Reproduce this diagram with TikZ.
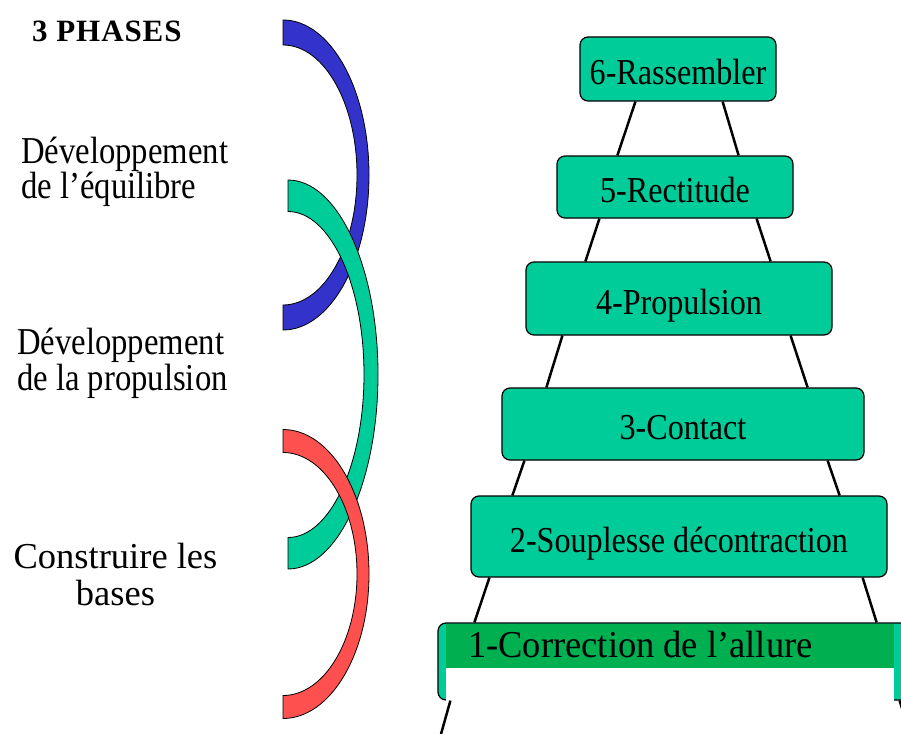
\documentclass[tikz,border=0pt]{standalone}
\usepackage{fontspec}
\setmainfont{Liberation Serif}
\newfontfamily\condfont[FakeStretch=0.86]{Liberation Serif}
\newfontfamily\boxfont[FakeStretch=0.88]{Liberation Serif}
\newfontfamily\barfont[FakeStretch=0.96]{Liberation Serif}
\newfontfamily\phfont[LetterSpace=3]{Liberation Serif}
\definecolor{boxteal}{HTML}{00CC99}
\definecolor{bargreen}{HTML}{00B050}
\definecolor{arcblue}{HTML}{3333CC}
\definecolor{arcred}{HTML}{FF5050}
\tikzset{
  pics/crescent/.style n args={7}{code={
    \filldraw[fill=#7, draw=black, line width=0.8pt]
      (#1,{#2-#4}) .. controls ({#1+0.5523*#3},{#2-#4}) and ({#1+#3},{#2-0.5523*#4}) .. ({#1+#3},#2)
      .. controls ({#1+#3},{#2+0.5523*#4}) and ({#1+0.5523*#3},{#2+#4}) .. (#1,{#2+#4})
      -- (#1,{#2+#6})
      .. controls ({#1+0.5523*#5},{#2+#6}) and ({#1+#5},{#2+0.5523*#6}) .. ({#1+#5},#2)
      .. controls ({#1+#5},{#2-0.5523*#6}) and ({#1+0.5523*#5},{#2-#6}) .. (#1,{#2-#6})
      -- cycle;
  }}
}
\begin{document}
\begin{tikzpicture}[x=1pt,y=-1pt,
  stage/.style={draw=black, line width=1.2pt, fill=boxteal, rounded corners=8pt,
    inner sep=0pt, text height=31pt, text depth=0pt,
    font=\boxfont\fontsize{36.5}{40}\selectfont},
  link/.style={line width=2.5pt, draw=black},
  sidetext/.style={anchor=base west, inner sep=0pt, font=\condfont\fontsize{38}{40}\selectfont},
  basetext/.style={anchor=base, inner sep=0pt, font=\fontsize{36.5}{40}\selectfont}]
\useasboundingbox (0,0) rectangle (901,733);
\clip (0,0) rectangle (901,733);
\fill[white] (0,0) rectangle (901,733);

% crescents
\pic {crescent={283}{175}{86}{155}{74}{130}{arcblue}};
\pic {crescent={288}{374.5}{90}{194.5}{76}{163}{boxteal}};
\pic {crescent={283}{574}{86}{144.5}{74}{121.5}{arcred}};

% stages
\node[stage, minimum width=196pt, minimum height=64pt] (b6) at (678,69) {6-Rassembler};
\node[stage, minimum width=236pt, minimum height=62pt] (b5) at (675,187) {5-Rectitude};
\node[stage, minimum width=306pt, minimum height=73pt] (b4) at (679,298.5) {4-Propulsion};
\node[stage, minimum width=362pt, minimum height=72pt] (b3) at (683,424) {3-Contact};
\node[stage, minimum width=416pt, minimum height=81pt] (b2) at (679,536.5) {2-Souplesse décontraction};
\node[stage, minimum width=477pt, minimum height=77pt] (b1) at (676.5,661.5) {};
\fill[bargreen] (446,624.2) rectangle (894,668);
\fill[white] (446,668) rectangle (894,705);
\node[anchor=base west, inner sep=0pt, font=\barfont\fontsize{38}{40}\selectfont] (t1) at (468,657) {1-Correction de l’allure};

% connectors
\draw[link] ([xshift=56pt]b6.south west) -- ([xshift=61pt]b5.north west);
\draw[link] ([xshift=-54pt]b6.south east) -- ([xshift=-55pt]b5.north east);
\draw[link] ([xshift=43pt]b5.south west) -- ([xshift=60pt]b4.north west);
\draw[link] ([xshift=-37pt]b5.south east) -- ([xshift=-62pt]b4.north east);
\draw[link] ([xshift=37pt]b4.south west) -- ([xshift=45pt]b3.north west);
\draw[link] ([xshift=-42pt]b4.south east) -- ([xshift=-57pt]b3.north east);
\draw[link] ([xshift=23pt]b3.south west) -- ([xshift=42pt]b2.north west);
\draw[link] ([xshift=-37pt]b3.south east) -- ([xshift=-48pt]b2.north east);
\draw[link] ([xshift=19pt]b2.south west) -- ([xshift=37pt]b1.north west);
\draw[link] ([xshift=-25pt]b2.south east) -- ([xshift=-39pt]b1.north east);
\coordinate (e1) at (441,734);
\coordinate (e2) at (910,734);
\draw[link] ([xshift=13pt]b1.south west) -- (e1);
\draw[link] ([xshift=-16pt]b1.south east) -- (e2);

% left texts
\node[anchor=base west, inner sep=0pt, font=\phfont\bfseries\fontsize{31}{34}\selectfont] (ph) at (32,42) {3 PHASES};
\node[sidetext] (eq1) at (21,163) {Développement};
\node[sidetext] (eq2) at (21,198) {de l’équilibre};
\node[sidetext] (pr1) at (17,354) {Développement};
\node[sidetext] (pr2) at (17,390) {de la propulsion};
\node[basetext] (cb1) at (115.5,568) {Construire les};
\node[basetext] (cb2) at (115.5,605) {bases};
\end{tikzpicture}
\end{document}
